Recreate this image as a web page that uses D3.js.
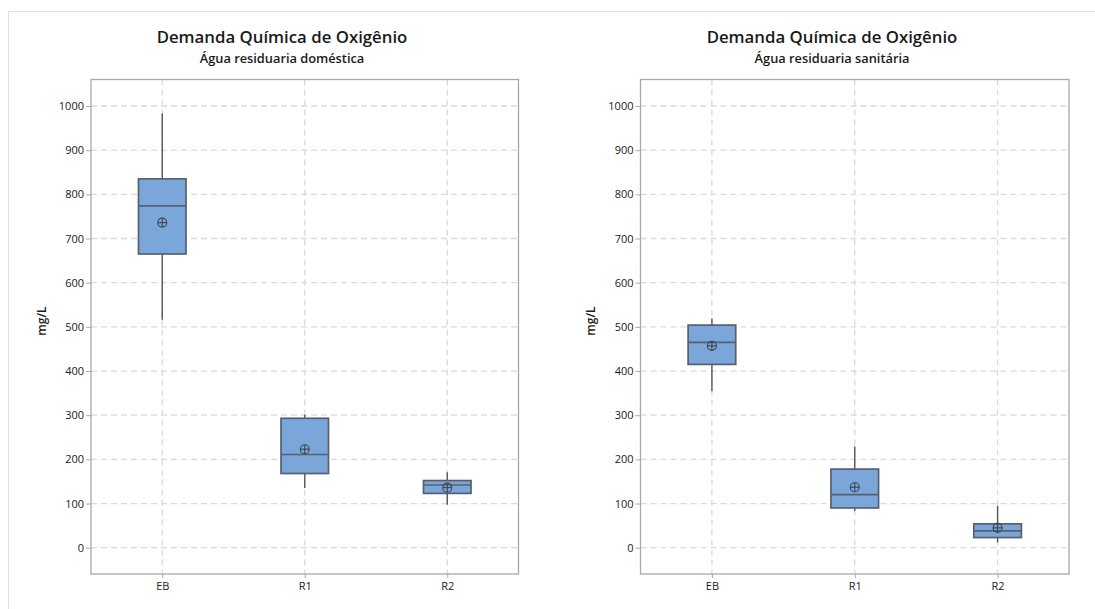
<!DOCTYPE html>
<html>
<head>
<meta charset="utf-8">
<script src="https://cdn.jsdelivr.net/npm/d3@7"></script>
<style>
  html, body { margin: 0; padding: 0; background: #fff; }
  svg { display: block; font-family: "Open Sans", "Noto Sans", sans-serif; }
</style>
</head>
<body>
<svg id="chart" width="1095" height="609"></svg>
<script>
// Categories and tick values shared by both panels
const groups = ["EB", "R1", "R2"];
const yTicks = [0, 100, 200, 300, 400, 500, 600, 700, 800, 900, 1000];
const yDomain = [-59.5, 1060];

// Panel titles
const titleMain = "Demanda Química de Oxigênio";
const subtitles = ["Água residuaria doméstica", "Água residuaria sanitária"];
const yLabel = "mg/L";

// Box statistics per group: [whisker low, Q1, median, Q3, whisker high]
const domesticBoxes = [
  [516, 665, 774, 835, 983],
  [135, 168, 211, 293, 301],
  [97, 123, 142, 152, 171]
];
const domesticMeans = [736, 223, 136];

const sanitaryBoxes = [
  [354, 415, 465, 504, 519],
  [83, 90, 120, 178, 229],
  [12, 23, 38, 54, 95]
];
const sanitaryMeans = [457, 137, 45];

const svg = d3.select("#chart");

// Light frame along the top and left of the figure
svg.append("line").attr("x1", 8).attr("x2", 1095).attr("y1", 11.5).attr("y2", 11.5)
  .attr("stroke", "#e2e2e2").attr("stroke-width", 1);
svg.append("line").attr("x1", 8.5).attr("x2", 8.5).attr("y1", 11).attr("y2", 609)
  .attr("stroke", "#e2e2e2").attr("stroke-width", 1);

const panels = [
  { left: 91, right: 518.5, center: 282, labelX: 46, sub: subtitles[0], boxes: domesticBoxes, means: domesticMeans },
  { left: 640.5, right: 1069, center: 832, labelX: 595, sub: subtitles[1], boxes: sanitaryBoxes, means: sanitaryMeans }
];
const plotTop = 79.5, plotBottom = 574;

const boxFill = "#7aa6da";
const boxStroke = "#56606e";
const gridColor = "#dadada";

panels.forEach(p => {
  const g = svg.append("g");
  const x = d3.scalePoint().domain(groups).range([p.left, p.right]).padding(0.5);
  const y = d3.scaleLinear().domain(yDomain).range([plotBottom, plotTop]);
  const step = x.step();
  const boxW = step / 3;

  // Titles
  g.append("text").attr("x", p.center).attr("y", 43).attr("text-anchor", "middle")
    .attr("font-size", 16.8).attr("font-weight", 600).attr("fill", "#1a1a1a").text(titleMain);
  g.append("text").attr("x", p.center).attr("y", 63).attr("text-anchor", "middle")
    .attr("font-size", 12.8).attr("font-weight", 600).attr("fill", "#1a1a1a").text(p.sub);

  // Dashed grid
  g.append("g").selectAll("line").data(yTicks).join("line")
    .attr("x1", p.left).attr("x2", p.right)
    .attr("y1", d => y(d)).attr("y2", d => y(d))
    .attr("stroke", gridColor).attr("stroke-width", 1.3).attr("stroke-dasharray", "6,4");
  g.append("g").selectAll("line").data(groups).join("line")
    .attr("x1", d => x(d)).attr("x2", d => x(d))
    .attr("y1", plotTop).attr("y2", plotBottom)
    .attr("stroke", gridColor).attr("stroke-width", 1.3).attr("stroke-dasharray", "6,4");

  // Axes
  const yAxis = d3.axisLeft(y).tickValues(yTicks).tickFormat(d3.format("d")).tickSize(5).tickPadding(2);
  const ya = g.append("g").attr("transform", `translate(${p.left},0)`).call(yAxis);
  const xAxis = d3.axisBottom(x).tickSize(4).tickPadding(4);
  const xa = g.append("g").attr("transform", `translate(0,${plotBottom})`).call(xAxis);
  [ya, xa].forEach(a => {
    a.select(".domain").remove();
    a.selectAll(".tick line").attr("stroke", "#aaa");
    a.selectAll(".tick text").attr("fill", "#1a1a1a").attr("font-size", 11)
      .attr("font-family", "\"Open Sans\", \"Noto Sans\", sans-serif");
  });

  // Plot frame
  g.append("rect").attr("x", p.left).attr("y", plotTop)
    .attr("width", p.right - p.left).attr("height", plotBottom - plotTop)
    .attr("fill", "none").attr("stroke", "#a8a8a8").attr("stroke-width", 1.3);

  // Y label
  g.append("text").attr("transform", `translate(${p.labelX},321) rotate(-90)`)
    .attr("text-anchor", "middle").attr("font-size", 12).attr("font-weight", 600)
    .attr("fill", "#1a1a1a").text(yLabel);

  // Boxes
  const bg = g.append("g").selectAll("g").data(groups).join("g");
  bg.each(function (grp, i) {
    const s = p.boxes[i];
    const cx = x(grp);
    const sel = d3.select(this);
    sel.append("line").attr("x1", cx).attr("x2", cx).attr("y1", y(s[3])).attr("y2", y(s[4]))
      .attr("stroke", "#555").attr("stroke-width", 1.4);
    sel.append("line").attr("x1", cx).attr("x2", cx).attr("y1", y(s[0])).attr("y2", y(s[1]))
      .attr("stroke", "#555").attr("stroke-width", 1.4);
    sel.append("rect").attr("x", cx - boxW / 2).attr("y", y(s[3]))
      .attr("width", boxW).attr("height", y(s[1]) - y(s[3]))
      .attr("fill", boxFill).attr("stroke", boxStroke).attr("stroke-width", 1.7);
    sel.append("line").attr("x1", cx - boxW / 2).attr("x2", cx + boxW / 2)
      .attr("y1", y(s[2])).attr("y2", y(s[2]))
      .attr("stroke", boxStroke).attr("stroke-width", 1.7);
    // Mean symbol: circle with a cross
    const my = y(p.means[i]);
    const r = 4.5;
    sel.append("circle").attr("cx", cx).attr("cy", my).attr("r", r)
      .attr("fill", "none").attr("stroke", "#3d4450").attr("stroke-width", 1.1);
    sel.append("line").attr("x1", cx - r).attr("x2", cx + r).attr("y1", my).attr("y2", my)
      .attr("stroke", "#3d4450").attr("stroke-width", 1.1);
    sel.append("line").attr("x1", cx).attr("x2", cx).attr("y1", my - r).attr("y2", my + r)
      .attr("stroke", "#3d4450").attr("stroke-width", 1.1);
  });
});
</script>
</body>
</html>
